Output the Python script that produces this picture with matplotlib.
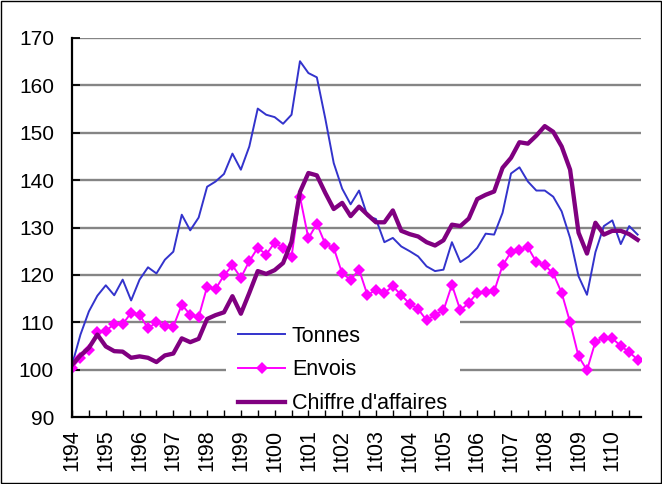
import numpy as np
import matplotlib
matplotlib.use('Agg')
import matplotlib.pyplot as plt
from matplotlib.patches import Rectangle

plt.rcParams['font.family'] = ['Liberation Sans', 'DejaVu Sans']

# year labels, one every 4 quarters (1t94 .. 1t10)
yearLabels = ['1t94', '1t95', '1t96', '1t97', '1t98', '1t99', '1t00', '1t01',
              '1t02', '1t03', '1t04', '1t05', '1t06', '1t07', '1t08', '1t09', '1t10']

# quarterly indices, 1t94 .. 4t10
tonnes = [101.0, 107.4, 112.3, 115.6, 117.8, 115.7, 119.0, 114.6, 119.0, 121.6,
          120.3, 123.2, 124.9, 132.7, 129.4, 132.1, 138.6, 139.7, 141.3, 145.6,
          142.2, 147.1, 155.1, 153.8, 153.3, 151.9, 153.8, 165.1, 162.6, 161.7,
          153.0, 143.6, 138.2, 134.9, 137.8, 132.4, 131.8, 126.9, 127.8, 126.0,
          125.0, 123.9, 121.8, 120.8, 121.1, 126.9, 122.7, 123.9, 125.7, 128.7,
          128.5, 133.1, 141.4, 142.7, 139.7, 137.8, 137.8, 136.5, 133.4, 127.8,
          119.7, 115.8, 124.8, 130.3, 131.5, 126.5, 130.3, 128.5]

envois = [100.4, 102.5, 104.2, 107.9, 108.2, 109.6, 109.6, 112.0, 111.6, 108.7,
          110.0, 109.2, 109.1, 113.7, 111.6, 111.1, 117.5, 117.0, 119.9, 122.0,
          119.4, 122.9, 125.7, 124.3, 126.8, 125.7, 123.8, 136.5, 127.7, 130.8,
          126.5, 125.7, 120.3, 119.0, 121.1, 115.7, 116.9, 116.2, 117.6, 115.7,
          113.9, 112.8, 110.4, 111.6, 112.5, 117.9, 112.5, 114.1, 116.2, 116.3,
          116.5, 122.0, 124.8, 125.3, 125.8, 122.7, 122.0, 120.3, 116.2, 110.0,
          102.8, 99.9, 105.9, 106.7, 106.6, 105.0, 103.7, 102.1]

chiffre = [101.0, 103.0, 104.6, 107.4, 104.9, 103.9, 103.8, 102.5, 102.8, 102.5,
           101.6, 103.0, 103.4, 106.6, 105.8, 106.5, 110.7, 111.5, 112.1, 115.5,
           111.8, 116.2, 120.8, 120.2, 121.0, 122.5, 127.0, 137.5, 141.5, 141.0,
           137.3, 133.9, 135.2, 132.4, 134.4, 132.7, 131.1, 131.1, 133.6, 129.3,
           128.6, 128.1, 126.9, 126.2, 127.3, 130.6, 130.3, 131.9, 136.0, 136.9,
           137.6, 142.6, 144.7, 148.0, 147.7, 149.4, 151.4, 150.2, 147.1, 142.2,
           128.9, 124.5, 131.0, 128.5, 129.3, 129.3, 128.6, 127.4]

X = np.arange(len(tonnes))

fig = plt.figure(figsize=(6.62, 4.84), dpi=100)
ax = fig.add_axes([0.1088, 0.1384, 0.8595, 0.7831])

# horizontal grid
for v in range(100, 171, 10):
    ax.axhline(v, color='#858585', linewidth=1.7, zorder=0.5)

ax.plot(X, tonnes, color='#3333cc', linewidth=1.4, label='Tonnes', zorder=2)
ax.plot(X, envois, color='#ff00ff', linewidth=1.4, marker='D', markersize=6.5,
        markeredgewidth=0, label='Envois', zorder=2.1)
ax.plot(X, chiffre, color='#800080', linewidth=3.1, label="Chiffre d'affaires",
        solid_joinstyle='round', zorder=2.2)

ax.set_ylim(90, 170)
ax.set_yticks(range(90, 171, 10))
ax.set_xlim(0, 67.4)
ax.set_xticks(range(0, len(X), 2))
xlab = []
for k in range(0, len(X), 2):
    if k % 4 == 0:
        xlab.append(yearLabels[k // 4])
    else:
        xlab.append('')
ax.set_xticklabels(xlab, rotation=90)

ax.tick_params(axis='y', direction='in', length=6, width=1.3, pad=13, labelsize=15)
ax.tick_params(axis='x', direction='in', length=5, width=1.0, pad=9, labelsize=15.5)

for s in ['top', 'right']:
    ax.spines[s].set_visible(False)
for s in ['left', 'bottom']:
    ax.spines[s].set_linewidth(1.6)
    ax.spines[s].set_zorder(3)

leg = ax.legend(loc='lower left', bbox_to_anchor=(0.27, -0.026), fontsize=15.5,
                frameon=True, facecolor='white', edgecolor='none', framealpha=1,
                fancybox=False, handlelength=2.2, handletextpad=0.3,
                labelspacing=0.6, borderaxespad=0, borderpad=0.58)
leg.set_zorder(1)

# chart border
fig.patches.append(Rectangle((0.002, 0.002), 0.996, 0.996, transform=fig.transFigure,
                             fill=False, edgecolor='black', linewidth=1))

fig.savefig('out.png', dpi=100)
